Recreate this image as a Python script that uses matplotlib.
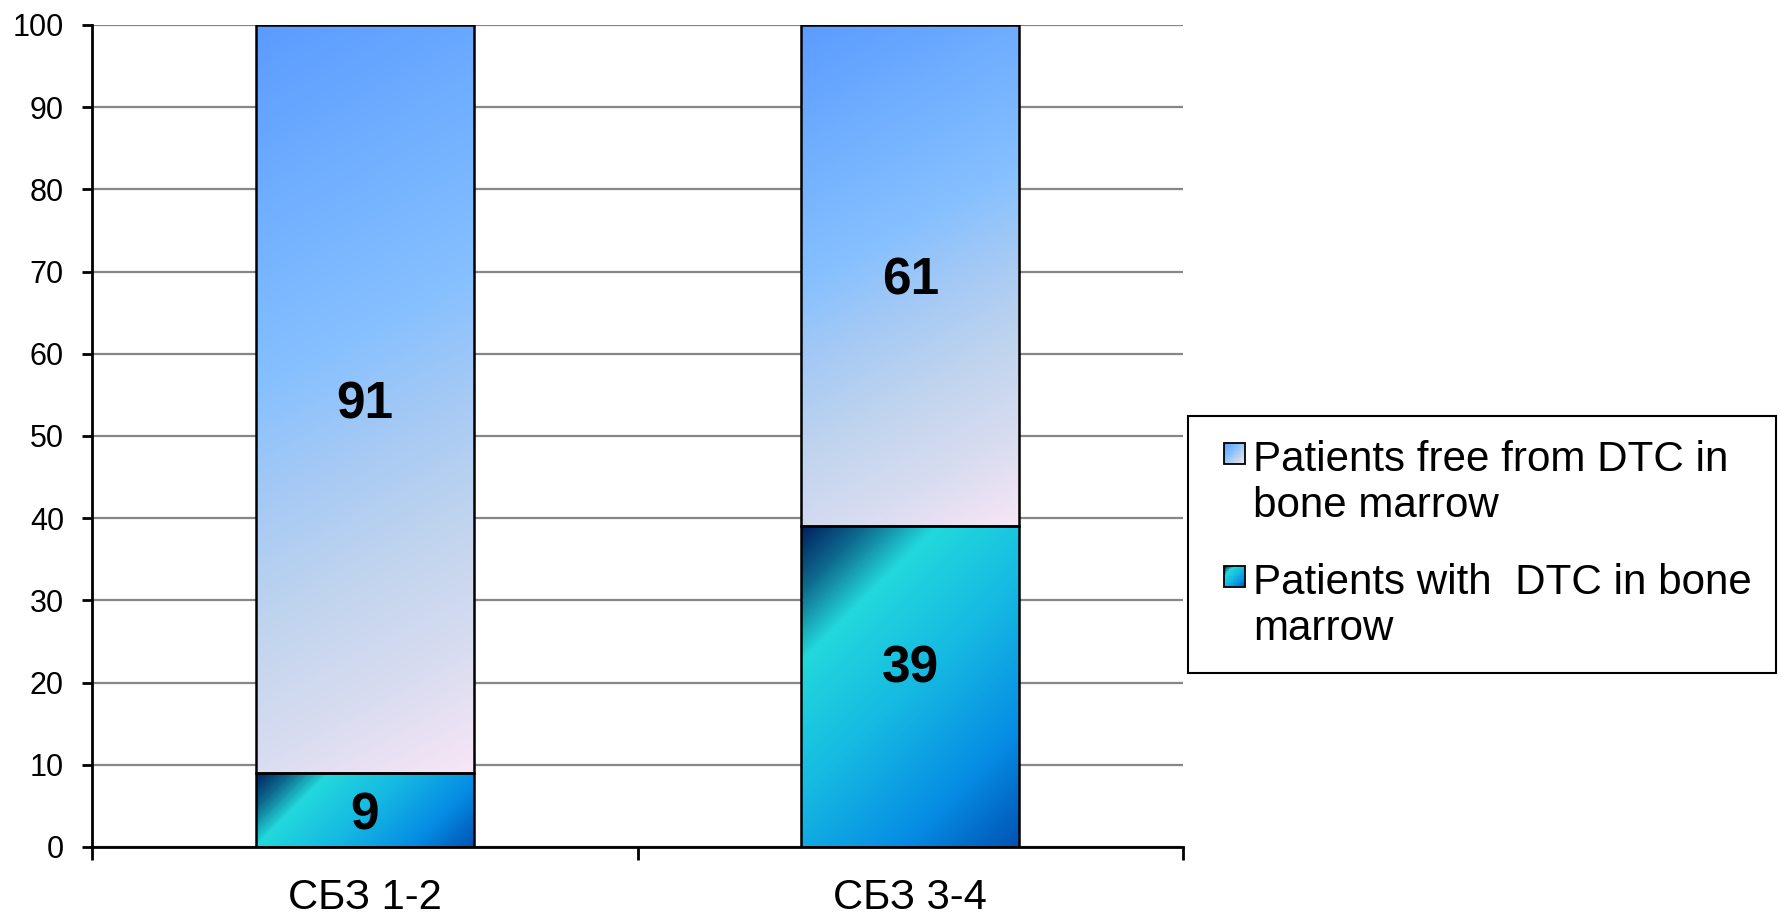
import numpy as np
import matplotlib
matplotlib.use('Agg')
import matplotlib.pyplot as plt
from matplotlib.colors import LinearSegmentedColormap
from matplotlib.patches import Rectangle
from matplotlib.legend_handler import HandlerBase

# ---- data ----
categories = ['СБЗ 1-2', 'СБЗ 3-4']
with_dtc = [9, 39]
free_dtc = [91, 61]
label_free = 'Patients free from DTC in\nbone marrow'
label_with = 'Patients with  DTC in bone\nmarrow'
y_ticks = list(range(0, 101, 10))
# small vertical nudges of the value labels (data units)
nudge_with = [0, 2.8]
nudge_free = [0, 0]

plt.rcParams['font.family'] = ['Liberation Sans', 'DejaVu Sans']

cmap_free = LinearSegmentedColormap.from_list(
    'free', [(0, '#5B9BFF'), (0.25, '#74B2FF'), (0.42, '#86C0FF'),
             (0.55, '#A4C9F5'), (0.7, '#C0D4EE'), (0.85, '#D8DCF0'),
             (1.0, '#F8E6F6')])
cmap_with = LinearSegmentedColormap.from_list(
    'with', [(0, '#00205E'), (0.12, '#0E6A8E'), (0.25, '#22D8DC'),
             (0.5, '#16BAE2'), (0.78, '#068CE4'), (1.0, '#0052B2')])

W, H = 1781, 918
fig = plt.figure(figsize=(W / 100, H / 100), dpi=100)
ax = fig.add_axes([92 / W, 1 - 847 / H, (1183 - 92) / W, (847 - 25) / H])
x = np.arange(len(categories))
ax.set_xlim(-0.5, len(categories) - 0.5)
ax.set_ylim(0, 100)

b_with = ax.bar(x, with_dtc, width=0.4, facecolor='none', edgecolor='black',
                linewidth=1.8, zorder=3)
b_free = ax.bar(x, free_dtc, bottom=with_dtc, width=0.4, facecolor='none',
                edgecolor='black', linewidth=1.8, zorder=3)


def fill_gradient(patch, cmap, a):
    x0, y0 = patch.get_x(), patch.get_y()
    w, h = patch.get_width(), patch.get_height()
    (px0, py0), (px1, py1) = ax.transData.transform([(x0, y0), (x0 + w, y0 + h)])
    wp, hp = max(int(round(px1 - px0)), 2), max(int(round(py1 - py0)), 2)
    xs = np.arange(wp)[None, :] + 0.5
    ys = np.arange(hp)[:, None] + 0.5
    t = (a * xs + ys) / (a * wp + hp)
    ax.imshow(t, cmap=cmap, vmin=0, vmax=1, extent=[x0, x0 + w, y0, y0 + h],
              origin='upper', aspect='auto', interpolation='bilinear', zorder=2)


for p in b_with.patches:
    fill_gradient(p, cmap_with, 1.0)
for p in b_free.patches:
    fill_gradient(p, cmap_free, 0.54)
ax.set_xlim(-0.5, len(categories) - 0.5)
ax.set_ylim(0, 100)

for bars, vals, nudges in [(b_with, with_dtc, nudge_with), (b_free, free_dtc, nudge_free)]:
    for p, v, n in zip(bars.patches, vals, nudges):
        ax.annotate(str(v), (p.get_x() + p.get_width() / 2, p.get_y() + p.get_height() / 2 + n),
                    xytext=(0, -4), textcoords='offset points', ha='center', va='center',
                    fontsize=37, fontweight='bold', zorder=4)

# axes styling
ax.set_yticks(y_ticks)
ax.tick_params(axis='y', labelsize=22, length=7.2, width=2, pad=13, direction='out')
ax.set_xticks(x, categories)
ax.tick_params(axis='x', which='major', length=0, labelsize=30, pad=22)
ax.set_xticks(np.arange(len(categories) + 1) - 0.5, minor=True)
ax.tick_params(axis='x', which='minor', length=9.4, width=2, direction='out')
for s in ['top', 'right']:
    ax.spines[s].set_visible(False)
for s in ['left', 'bottom']:
    ax.spines[s].set_linewidth(2)
    ax.spines[s].set_zorder(5)
ax.set_axisbelow(True)
ax.yaxis.grid(True, color='#868686', linewidth=1.6)


class GradHandler(HandlerBase):
    def __init__(self, cmap, n=12):
        super().__init__()
        self.cmap = cmap
        self.n = n

    def legend_artist(self, legend, orig_handle, fontsize, handlebox):
        s = fontsize * 0.5
        x0 = -handlebox.xdescent + fontsize * 0.28
        y0 = -handlebox.ydescent + fontsize * 0.83
        n = self.n
        d = s / n
        tr = handlebox.get_transform()
        for i in range(n):
            for j in range(n):
                t = (i + j + 1) / (2 * n)
                r = Rectangle((x0 + i * d, y0 + s - (j + 1) * d), d * 1.05, d * 1.05,
                              facecolor=self.cmap(t), edgecolor='none', transform=tr)
                handlebox.add_artist(r)
        frame = Rectangle((x0, y0), s, s, facecolor='none', edgecolor='black',
                          linewidth=1.3, transform=tr)
        handlebox.add_artist(frame)
        return frame


h_free = Rectangle((0, 0), 1, 1)
h_with = Rectangle((0, 0), 1, 1)
leg = fig.legend([h_free, h_with], [label_free, label_with],
                 handler_map={h_free: GradHandler(cmap_free), h_with: GradHandler(cmap_with)},
                 loc='upper left', bbox_to_anchor=(1188 / W, 1 - 416 / H),
                 bbox_transform=fig.transFigure, borderaxespad=0,
                 fontsize=30.3, frameon=True, fancybox=False, framealpha=1,
                 edgecolor='black', handlelength=0.78, handletextpad=0.2,
                 labelspacing=0.88, borderpad=0.57)
leg.get_frame().set_linewidth(1.5)

fig.savefig('out.png', dpi=100)
